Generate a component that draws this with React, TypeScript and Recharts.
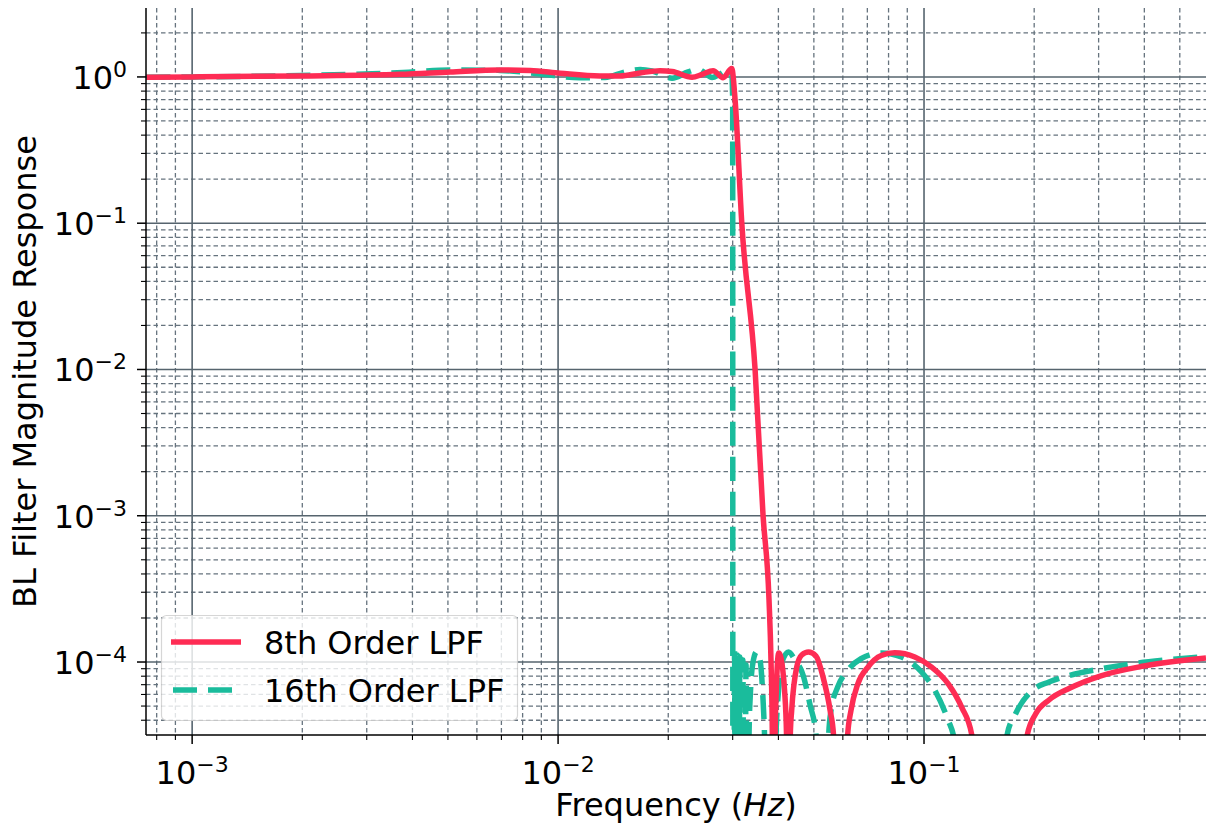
import React from 'react';
import { LineChart, Line, XAxis, YAxis, CartesianGrid } from 'recharts';

// ---------- data ----------
const X_DOMAIN: [number, number] = [0.000748, 0.5896];
const Y_DOMAIN: [number, number] = [3.17e-5, 2.96];

const X_MAJOR = [0.001, 0.01, 0.1];
const X_MINOR = [0.0008, 0.0009, 0.002, 0.003, 0.004, 0.005, 0.006, 0.007, 0.008, 0.009,
  0.02, 0.03, 0.04, 0.05, 0.06, 0.07, 0.08, 0.09, 0.2, 0.3, 0.4, 0.5];
const Y_MAJOR = [1e-4, 1e-3, 1e-2, 1e-1, 1];
const Y_MINOR = [4e-5, 5e-5, 6e-5, 7e-5, 8e-5, 9e-5,
  2e-4, 3e-4, 4e-4, 5e-4, 6e-4, 7e-4, 8e-4, 9e-4,
  2e-3, 3e-3, 4e-3, 5e-3, 6e-3, 7e-3, 8e-3, 9e-3,
  0.02, 0.03, 0.04, 0.05, 0.06, 0.07, 0.08, 0.09,
  0.2, 0.3, 0.4, 0.5, 0.6, 0.7, 0.8, 0.9, 2];

const SERIES_NAMES = ['8th Order LPF', '16th Order LPF'];
const X_LABEL = 'Frequency';
const X_UNIT = 'Hz';
const Y_LABEL = 'BL Filter Magnitude Response';

const RED_FREQ = [0.00075, 0.001, 0.00197, 0.0037, 0.00507, 0.00694, 0.00839, 0.01013, 0.01302, 0.01477,
  0.01675, 0.019, 0.02049, 0.02323, 0.02474, 0.02652, 0.02824, 0.02982, 0.03046, 0.03177,
  0.03454, 0.03632, 0.03771, 0.03819, 0.0385, 0.0388,
  0.03917, 0.03948, 0.03973, 0.04008, 0.04054, 0.04106, 0.04158, 0.0421, 0.04257,
  0.04311, 0.04349, 0.04489, 0.04632, 0.04835, 0.05069, 0.05297, 0.05536, 0.05659, 0.05911,
  0.06184, 0.06314, 0.0659, 0.07026, 0.0764, 0.08316, 0.09438, 0.1049, 0.1166, 0.1268, 0.1351, 0.1603,
  0.1914, 0.2018, 0.2195, 0.2506, 0.3028, 0.3991, 0.5896];
const RED_MAG = [0.995, 1.0, 1.016, 1.043, 1.082, 1.117, 1.108, 1.06, 1.016, 1.016,
  1.065, 1.104, 1.09, 0.995, 1.04, 1.104, 0.987, 1.143, 0.696, 0.1,
  0.01, 0.001, 2.65e-4, 1e-4, 3.16e-5, 1e-7,
  3.16e-5, 6.43e-5, 9.54e-5, 1.152e-4, 1.099e-4, 9.1e-5, 6.43e-5, 3.16e-5, 1e-7,
  3.16e-5, 4.7e-5, 9.24e-5, 1.116e-4, 1.17e-4, 1.099e-4, 7.9e-5, 4.7e-5, 3.16e-5, 1e-7,
  3.16e-5, 4.65e-5, 7.07e-5, 9.24e-5, 1.109e-4, 1.157e-4, 1.082e-4, 9.24e-5, 7.07e-5, 4.9e-5, 3.16e-5, 1e-7,
  3.16e-5, 4.41e-5, 5.5e-5, 6.64e-5, 8.02e-5, 9.39e-5, 1.065e-4];

const GREEN_FREQ = [0.00075, 0.001, 0.00197, 0.00377, 0.00507, 0.00694, 0.00893, 0.01148, 0.01344, 0.01524,
  0.01675, 0.01806, 0.02049, 0.02265, 0.02412, 0.02521, 0.02635, 0.02771, 0.02914, 0.02979,
  0.03, 0.03003, 0.03013,
  0.03036, 0.03061, 0.03084, 0.03111, 0.03138, 0.03168, 0.03198, 0.03231, 0.03263, 0.03298,
  0.03325, 0.03357, 0.0341, 0.0349, 0.03563, 0.03632, 0.03666, 0.03795,
  0.0394, 0.04004, 0.04093, 0.04263, 0.04441, 0.04671, 0.04882, 0.05069, 0.05264,
  0.05489, 0.05569, 0.05809, 0.06184, 0.06725, 0.0764, 0.08676, 0.09845, 0.1072, 0.1166, 0.1203, 0.1422,
  0.1686, 0.1778, 0.1973, 0.2195, 0.2587, 0.3028, 0.3654, 0.4556, 0.5896];
const GREEN_MAG = [0.995, 1.0, 1.024, 1.073, 1.117, 1.108, 1.048, 0.987, 0.992, 1.082,
  1.125, 1.099, 0.98, 1.082, 1.129, 1.065, 0.992, 1.048, 1.117, 1.099,
  0.696, 3.16e-5, 1e-7,
  1.134e-4, 1e-7, 1.116e-4, 1e-7, 1.082e-4, 1e-7, 1.032e-4, 1e-7, 9.54e-5, 1e-7,
  3.16e-5, 6.43e-5, 1e-4, 1.176e-4, 1.032e-4, 5.5e-5, 3.16e-5, 1e-7,
  3.16e-5, 6.43e-5, 1e-4, 1.17e-4, 1.032e-4, 8.15e-5, 5.08e-5, 3.16e-5, 1e-7,
  3.16e-5, 4.65e-5, 6.75e-5, 8.76e-5, 1.053e-4, 1.152e-4, 1.082e-4, 8.54e-5, 6.37e-5, 3.96e-5, 3.16e-5, 1e-7,
  3.16e-5, 4.41e-5, 6.37e-5, 7.3e-5, 8.28e-5, 8.96e-5, 9.69e-5, 1.032e-4, 1.09e-4];

const redData = RED_FREQ.map((f, i) => ({ f, m: RED_MAG[i] }));
const greenData = GREEN_FREQ.map((f, i) => ({ f, m: GREEN_MAG[i] }));

// ---------- style ----------
const RED = '#fe2c54';
const GREEN = '#1abc9c';
const FONT = 'DejaVu Sans';
const FS = 32;
const FS_SUP = 22;
const MAJOR_GRID = '#56646e';
const MINOR_GRID = '#66737e';
const LW = 5.5;
const DASH = '24 11';
const W = 1206;
const H = 829;

const isMajor = (v: number) => Math.abs(Math.log10(v) - Math.round(Math.log10(v))) < 1e-6;
const expText = (v: number) => {
  const e = Math.round(Math.log10(v));
  return e < 0 ? '\u2212' + Math.abs(e) : String(e);
};

const XTick = (props: any) => {
  const { x, y, payload } = props;
  const v = payload.value;
  const major = isMajor(v);
  return (
    <g>
      <line x1={x} x2={x} y1={y} y2={y + (major ? 9 : 5)} stroke="#000" strokeWidth={major ? 1.5 : 1.1} />
      {major && (
        <text x={x} y={y + 49} textAnchor="middle" fontFamily={FONT} fontSize={FS} fill="#000">
          <tspan>10</tspan>
          <tspan dy={-12} fontSize={FS_SUP}>{expText(v)}</tspan>
        </text>
      )}
    </g>
  );
};

const YTick = (props: any) => {
  const { x, y, payload } = props;
  const v = payload.value;
  const major = isMajor(v);
  return (
    <g>
      <line x1={x - (major ? 9 : 5)} x2={x} y1={y} y2={y} stroke="#000" strokeWidth={major ? 1.5 : 1.1} />
      {major && (
        <text x={x - 19} y={y + 12} textAnchor="end" fontFamily={FONT} fontSize={FS} fill="#000">
          <tspan>10</tspan>
          <tspan dy={-12} fontSize={FS_SUP}>{expText(v)}</tspan>
        </text>
      )}
    </g>
  );
};

const XLabel = (props: any) => {
  const vb = props.viewBox || { x: 146, y: 735, width: 1060 };
  return (
    <text x={vb.x + vb.width / 2} y={vb.y + 81} textAnchor="middle" fontFamily={FONT} fontSize={FS} fill="#000">
      {X_LABEL} (<tspan fontStyle="italic">{X_UNIT}</tspan>)
    </text>
  );
};

const YLabel = (props: any) => {
  const vb = props.viewBox || { x: 0, y: 8, height: 727 };
  const cx = 36;
  const cy = vb.y + vb.height / 2;
  return (
    <text x={cx} y={cy} transform={`rotate(-90, ${cx}, ${cy})`} textAnchor="middle" fontFamily={FONT} fontSize={FS} fill="#000">
      {Y_LABEL}
    </text>
  );
};

export default function App() {
  return (
    <div style={{ position: 'absolute', left: 0, top: 0, width: W, height: H, overflow: 'hidden', background: '#fff' }}>
      <LineChart width={W} height={H} margin={{ top: 8, right: 0, bottom: 0, left: 0 }}>
        <CartesianGrid horizontalValues={Y_MINOR} verticalValues={X_MINOR} stroke={MINOR_GRID} strokeWidth={1.3} strokeDasharray="4.5 3" />
        <CartesianGrid horizontalValues={Y_MAJOR} verticalValues={X_MAJOR} stroke={MAJOR_GRID} strokeWidth={1.6} />
        <XAxis
          dataKey="f"
          type="number"
          scale="log"
          domain={X_DOMAIN}
          allowDataOverflow
          ticks={[...X_MAJOR, ...X_MINOR]}
          interval={0}
          tick={XTick}
          tickLine={false}
          tickSize={0}
          tickMargin={0}
          height={94}
          axisLine={{ stroke: '#000', strokeWidth: 1.5 }}
          label={{ content: XLabel }}
        />
        <XAxis
          xAxisId="top"
          orientation="top"
          dataKey="f"
          type="number"
          scale="log"
          domain={X_DOMAIN}
          allowDataOverflow
          tick={false}
          tickLine={false}
          height={0}
          axisLine={{ stroke: '#000', strokeWidth: 1.5 }}
        />
        <YAxis
          type="number"
          scale="log"
          domain={Y_DOMAIN}
          allowDataOverflow
          ticks={[...Y_MAJOR, ...Y_MINOR]}
          interval={0}
          tick={YTick}
          tickLine={false}
          tickSize={0}
          tickMargin={0}
          width={146}
          axisLine={{ stroke: '#000', strokeWidth: 1.5 }}
          label={{ content: YLabel }}
        />
        <Line
          data={greenData}
          dataKey="m"
          name={SERIES_NAMES[1]}
          type="monotone"
          stroke={GREEN}
          strokeWidth={LW}
          strokeDasharray={DASH}
          dot={false}
          activeDot={false}
          isAnimationActive={false}
        />
        <Line
          data={redData}
          dataKey="m"
          name={SERIES_NAMES[0]}
          type="monotone"
          stroke={RED}
          strokeWidth={LW}
          dot={false}
          activeDot={false}
          isAnimationActive={false}
        />
      </LineChart>
      <svg width={W} height={H} style={{ position: 'absolute', left: 0, top: 0, pointerEvents: 'none' }}>
        <rect x={161.5} y={615.5} width={356} height={105} rx={5} ry={5}
          fill="#ffffff" fillOpacity={0.8} stroke="#cccccc" strokeOpacity={0.8} strokeWidth={1.2} />
        <line x1={171} x2={241} y1={642} y2={642} stroke={RED} strokeWidth={LW} />
        <text x={264} y={654} fontFamily={FONT} fontSize={FS} fill="#000">{SERIES_NAMES[0]}</text>
        <line x1={173} x2={241} y1={690} y2={690} stroke={GREEN} strokeWidth={LW} strokeDasharray={DASH} />
        <text x={264} y={702} fontFamily={FONT} fontSize={FS} fill="#000">{SERIES_NAMES[1]}</text>
      </svg>
    </div>
  );
}
